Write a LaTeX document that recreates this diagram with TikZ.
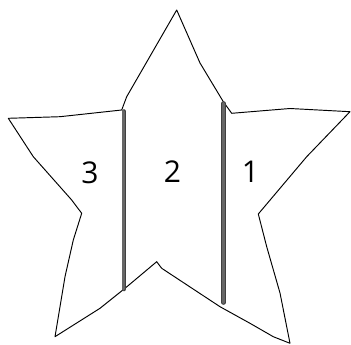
\documentclass[tikz,border=0pt]{standalone}
\usepackage{fontspec}
\setmainfont{Open Sans}

\begin{document}
\begin{tikzpicture}[x=1pt,y=-1pt,
    outline/.style={draw=black,line width=0.95pt,line join=round},
    cut/.style={draw=black!75,line width=0.8pt,double=gray!80!black,double distance=3pt,line cap=round},
    part/.style={font=\fontsize{30}{30}\selectfont,inner sep=0pt}]
  \useasboundingbox (0,0) rectangle (351,345);
  % star outline
  \draw [outline] (176.7,10) -- (200,63) -- (223.3,101.7) -- (231.7,113.3) -- (290,108.5) -- (350,111.7)
     -- (306.7,156.7) -- (258.3,214) -- (266.7,246.7) -- (280,293) -- (290,343.3)
     -- (273.3,336.7) -- (250,323.3) -- (220,306.7) -- (161.7,268.3) -- (156.7,261.7)
     -- (125,288.3) -- (100,308.3) -- (55,336.7) -- (65,276.7) -- (73.3,240) -- (81.7,213.3)
     -- (71.7,200) -- (33.3,156.7) -- (8.3,118.3) -- (60,116.7) -- (121.7,110) -- (126.7,96.7) -- cycle;
  % cuts
  \draw [cut] (123.8,111.5) -- (123.8,289);
  \draw [cut] (223.6,103.5) -- (223.6,302.5);
  % parts
  \node [part] (p3) at (90,173) {3};
  \node [part] (p2) at (172.5,172) {2};
  \node [part] (p1) at (250.5,172) {1};
\end{tikzpicture}
\end{document}
